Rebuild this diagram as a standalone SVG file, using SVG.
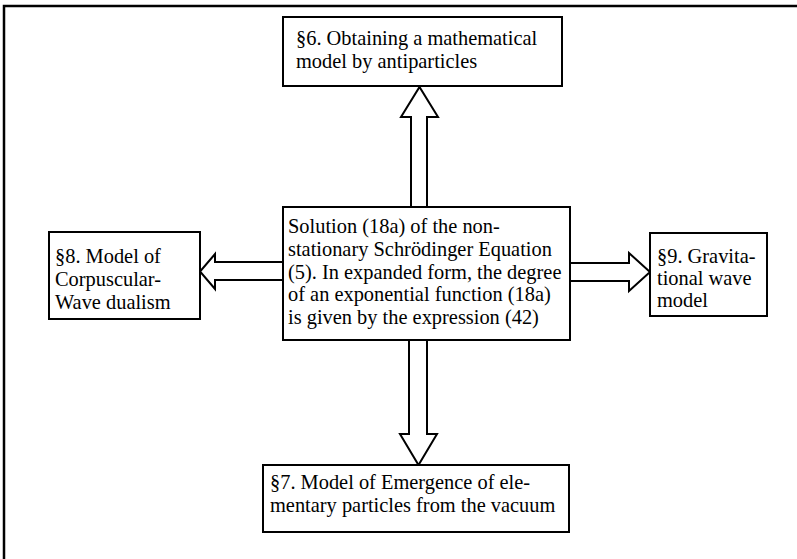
<svg xmlns="http://www.w3.org/2000/svg" width="797" height="559" viewBox="0 0 797 559">
<style>
.box{fill:#fff;stroke:#000;stroke-width:2}
.arr{fill:#fff;stroke:#000;stroke-width:2;stroke-linejoin:miter}
.frame{fill:none;stroke:#000;stroke-width:2.5}
.t{font-family:'Liberation Serif','Times New Roman',serif;font-size:20.4px;fill:#000}
</style>
<rect width="797" height="559" fill="#fff"/>
<path class="frame" d="M4,559 L4,6 L797,6"/>
<g id="connectors">
<polygon class="arr" points="411,207 411,117 401,117 419.5,87 438,117 427,117 427,207"/>
<polygon class="arr" points="283,262 215,262 215,254 200,271.5 215,289 215,280 283,280"/>
<polygon class="arr" points="570,263 629,263 629,253 650,272 629,291 629,281 570,281"/>
<polygon class="arr" points="409,340 409,434 400,434 418.5,465 437,434 427,434 427,340"/>
</g>
<g id="node-s6" class="t">
<rect class="box" x="283" y="17" width="279" height="69"/>
<text x="296" y="45">§6. Obtaining a mathematical</text>
<text x="296" y="68">model by antiparticles</text>
</g>
<g id="node-center" class="t">
<rect class="box" x="283" y="207" width="287" height="133"/>
<text x="288" y="233">Solution (18a) of the non-</text>
<text x="288" y="256">stationary Schrödinger Equation</text>
<text x="288" y="279">(5). In expanded form, the degree</text>
<text x="288" y="301">of an exponential function (18a)</text>
<text x="288" y="324">is given by the expression (42)</text>
</g>
<g id="node-s8" class="t">
<rect class="box" x="49" y="232" width="151" height="87"/>
<text x="55" y="263">§8. Model of</text>
<text x="55" y="286">Corpuscular-</text>
<text x="55" y="309">Wave dualism</text>
</g>
<g id="node-s9" class="t">
<rect class="box" x="650" y="233" width="117" height="83"/>
<text x="657" y="263">§9. Gravita-</text>
<text x="657" y="285">tional wave</text>
<text x="657" y="307">model</text>
</g>
<g id="node-s7" class="t">
<rect class="box" x="263" y="465" width="306" height="67"/>
<text x="270" y="489">§7. Model of Emergence of ele-</text>
<text x="270" y="512">mentary particles from the vacuum</text>
</g>
</svg>
